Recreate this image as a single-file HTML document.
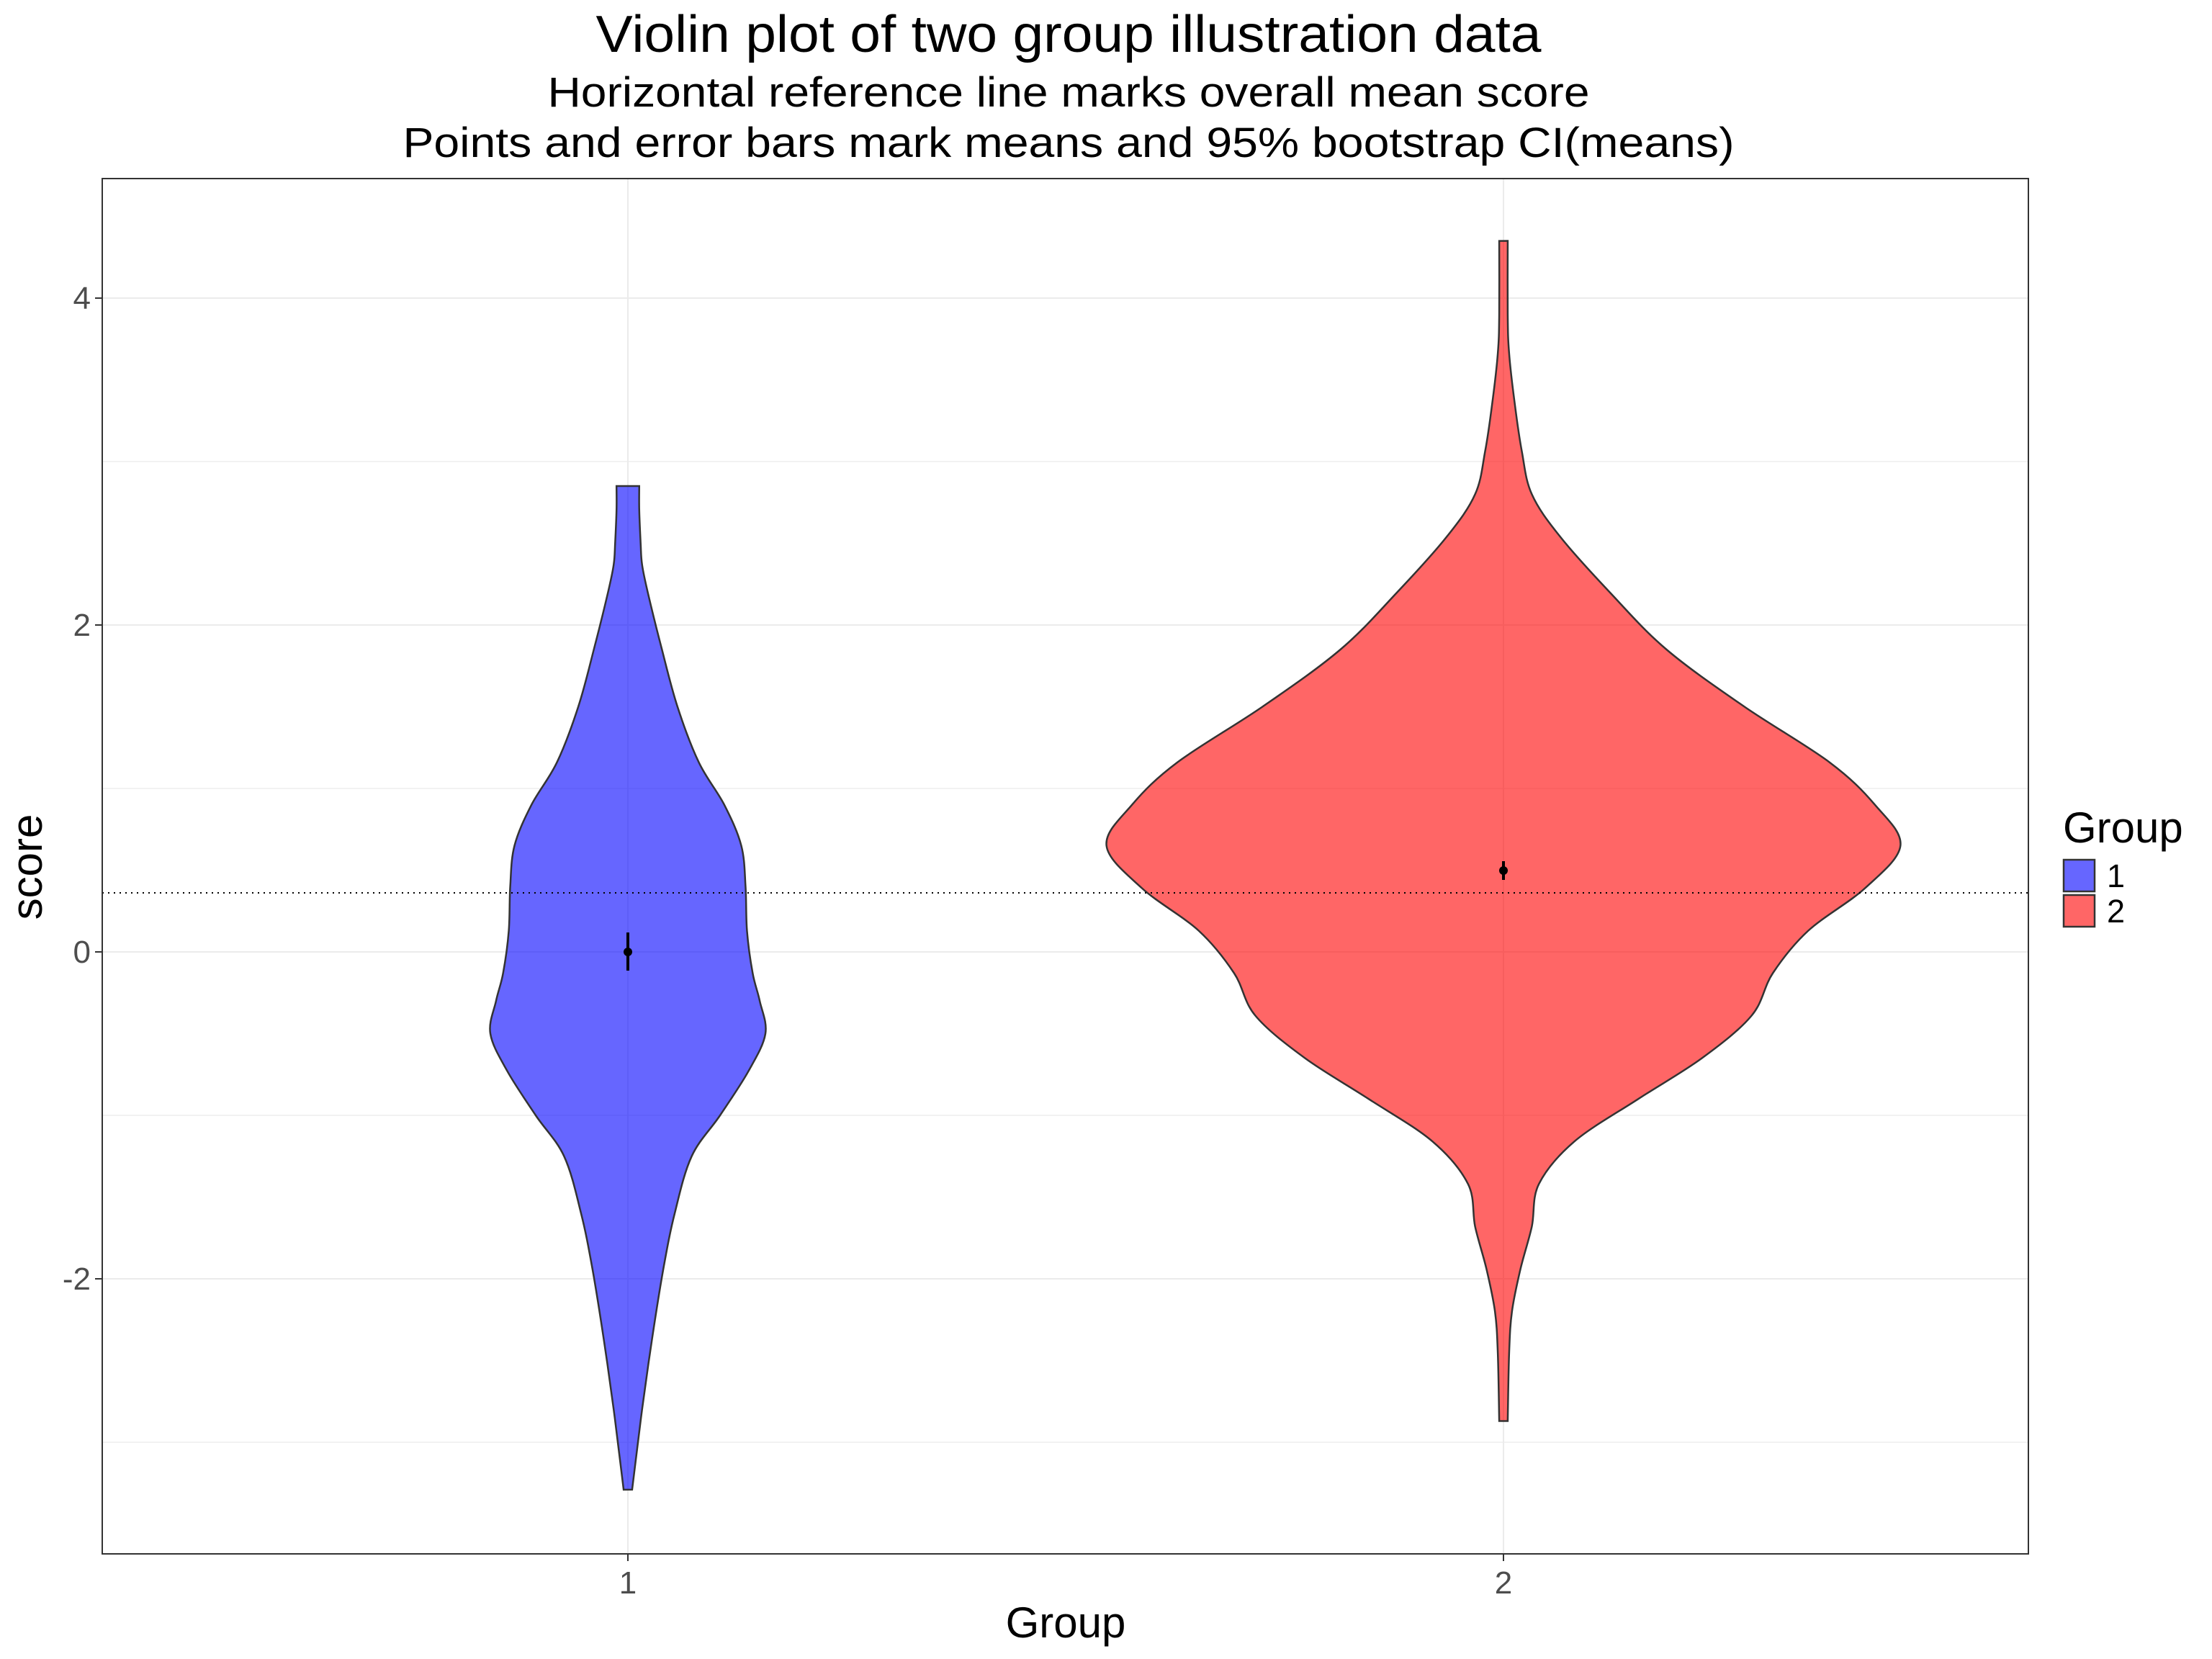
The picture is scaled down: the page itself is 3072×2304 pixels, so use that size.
<!DOCTYPE html>
<html><head><meta charset="utf-8"><style>
html,body{margin:0;padding:0;background:#fff;}
svg{display:block;}
text{font-family:"Liberation Sans",Arial,sans-serif;}
</style></head><body>
<svg id="s" width="3072" height="2304" viewBox="0 0 3072 2304" xmlns="http://www.w3.org/2000/svg">
<rect width="3072" height="2304" fill="#fff"/>
<g stroke="#ebebeb" stroke-width="2" fill="none">
<line x1="142" x2="2817" y1="1776" y2="1776"/>
<line x1="142" x2="2817" y1="1322" y2="1322" />
<line x1="142" x2="2817" y1="868" y2="868"/>
<line x1="142" x2="2817" y1="414" y2="414"/>
<line x1="142" x2="2817" y1="2003" y2="2003" stroke-width="1.2"/>
<line x1="142" x2="2817" y1="1549" y2="1549" stroke-width="1.2"/>
<line x1="142" x2="2817" y1="1095" y2="1095" stroke-width="1.2"/>
<line x1="142" x2="2817" y1="641" y2="641" stroke-width="1.2"/>
<line x1="872" x2="872" y1="248" y2="2158"/>
<line x1="2088" x2="2088" y1="248" y2="2158"/>
</g>
<path id="v1" fill="#0000ff" fill-opacity="0.6" stroke="#333" stroke-width="2.5"/>
<path id="v2" fill="#ff0000" fill-opacity="0.6" stroke="#333" stroke-width="2.5"/>
<line x1="142" x2="2817" y1="1240" y2="1240" stroke="#000" stroke-width="2" stroke-dasharray="2,6"/>
<line x1="872" x2="872" y1="1295" y2="1348" stroke="#000" stroke-width="4"/>
<circle cx="872" cy="1322" r="6" fill="#000"/>
<line x1="2088" x2="2088" y1="1196" y2="1222" stroke="#000" stroke-width="4"/>
<circle cx="2088" cy="1209" r="6" fill="#000"/>
<rect x="142" y="248" width="2675" height="1910" fill="none" stroke="#333" stroke-width="2"/>
<g stroke="#333" stroke-width="2">
<line x1="132" x2="142" y1="414" y2="414"/><line x1="132" x2="142" y1="868" y2="868"/>
<line x1="132" x2="142" y1="1322" y2="1322"/><line x1="132" x2="142" y1="1776" y2="1776"/>
<line x1="872" x2="872" y1="2158" y2="2168"/><line x1="2088" x2="2088" y1="2158" y2="2168"/>
</g>
<g fill="#4d4d4d" font-size="44" text-anchor="end">
<text x="126" y="429">4</text><text x="126" y="883">2</text>
<text x="126" y="1337">0</text><text x="126" y="1791">-2</text>
</g>
<g fill="#4d4d4d" font-size="44" text-anchor="middle">
<text x="872" y="2213">1</text><text x="2088" y="2213">2</text>
</g>
<text x="1480" y="2274" font-size="60" text-anchor="middle">Group</text>
<text transform="translate(58,1204) rotate(-90)" font-size="60" text-anchor="middle">score</text>
<text x="1484" y="72" font-size="72" text-anchor="middle" textLength="1313" lengthAdjust="spacingAndGlyphs">Violin plot of two group illustration data</text>
<text x="1484" y="148" font-size="58" text-anchor="middle" textLength="1447" lengthAdjust="spacingAndGlyphs">Horizontal reference line marks overall mean score</text>
<text x="1484" y="218" font-size="58" text-anchor="middle" textLength="1849" lengthAdjust="spacingAndGlyphs">Points and error bars mark means and 95% bootstrap CI(means)</text>
<text x="2865" y="1170" font-size="60">Group</text>
<rect x="2866" y="1194" width="43" height="44" fill="#0000ff" fill-opacity="0.6" stroke="#333" stroke-width="2.5"/>
<rect x="2866" y="1243" width="43" height="44" fill="#ff0000" fill-opacity="0.6" stroke="#333" stroke-width="2.5"/>
<text x="2926" y="1232" font-size="45">1</text>
<text x="2926" y="1281" font-size="45">2</text>
</svg>
<script>
var Y0=1322,U=227,K=1.969;
function y(s){return Y0-s*U;}
function build(cx,pts){
 var P=pts.map(function(p){return [p[1]*K,y(p[0])];});
 var n=P.length;
 function curve(sign){
  var d='';var Q=P.map(function(p){return [cx+sign*p[0],p[1]];});
  for(var i=0;i<n-1;i++){
   var p0=Q[Math.max(i-1,0)],p1=Q[i],p2=Q[i+1],p3=Q[Math.min(i+2,n-1)];
   var c1=[p1[0]+(p2[0]-p0[0])/6,p1[1]+(p2[1]-p0[1])/6];
   var c2=[p2[0]-(p3[0]-p1[0])/6,p2[1]-(p3[1]-p1[1])/6];
   d+=' C'+c1[0].toFixed(1)+','+c1[1].toFixed(1)+' '+c2[0].toFixed(1)+','+c2[1].toFixed(1)+' '+p2[0].toFixed(1)+','+p2[1].toFixed(1);
  }
  return [Q,d];
 }
 var r=curve(1);var d='M'+r[0][0][0]+','+r[0][0][1]+r[1];
 var Pr=P.slice().reverse();P=Pr;var l=curve(-1);
 d+=' L'+l[0][0][0]+','+l[0][0][1]+l[1]+' Z';
 return d;
}
var g1=[[2.85,8],[2.7,8],[2.5,9],[2.37,10],[2.2,14],[1.85,24],[1.5,35],[1.16,50],[0.9,68],[0.65,80],[0.4,83],[0.13,84],[-0.13,88],[-0.3,93],[-0.5,97],[-0.73,85],[-1.0,65],[-1.25,45],[-1.6,33],[-1.94,25],[-2.37,17],[-2.8,10],[-3.15,5],[-3.29,3]];
var g2=[[4.35,3],[3.9,3],[3.66,4],[3.35,8],[3.06,13],[2.8,20],[2.54,40],[2.2,75],[1.85,115],[1.5,170],[1.16,230],[0.9,262],[0.65,280],[0.39,255],[0.13,215],[-0.13,190],[-0.39,175],[-0.65,140],[-0.9,95],[-1.16,50],[-1.42,25],[-1.68,20],[-1.94,12],[-2.2,6],[-2.45,4],[-2.87,3]];
document.getElementById('v1').setAttribute('d',build(872,g1));
document.getElementById('v2').setAttribute('d',build(2088,g2));
</script>
</body></html>
